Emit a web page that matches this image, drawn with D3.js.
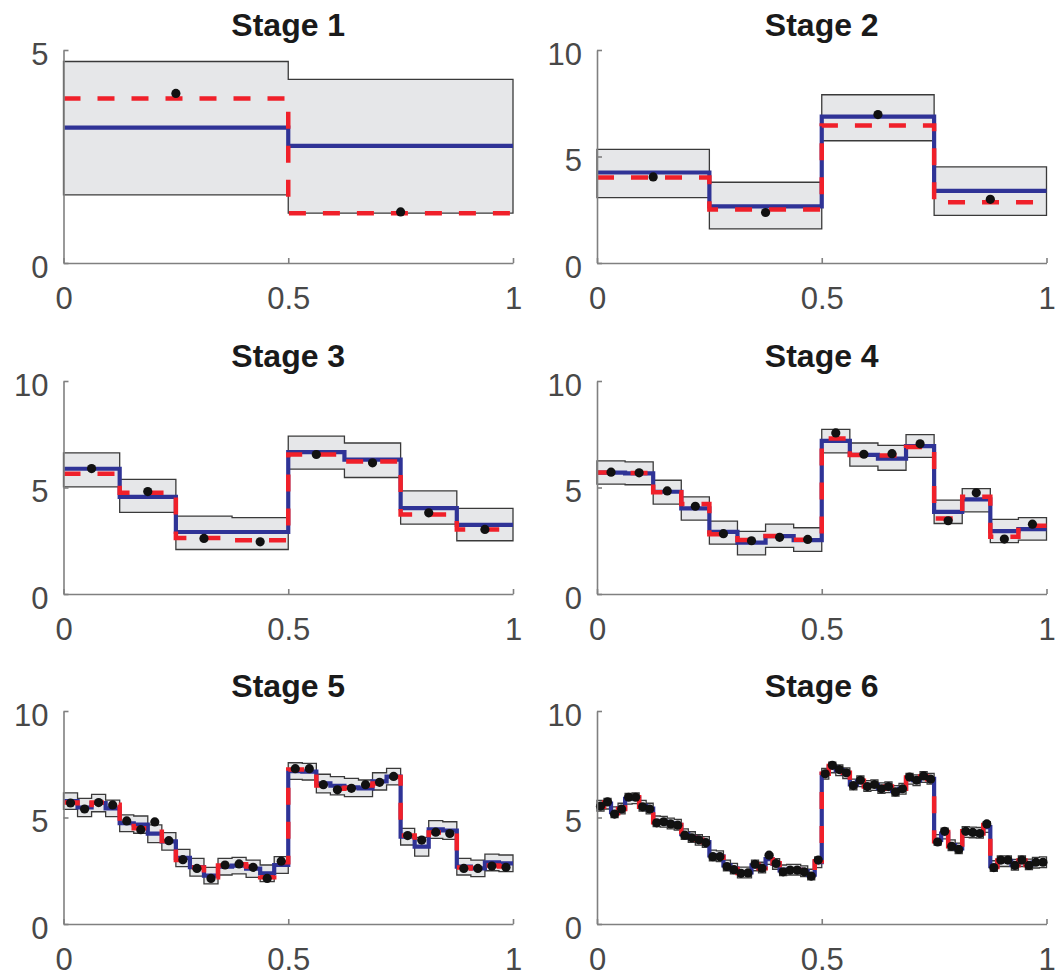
<!DOCTYPE html>
<html>
<head>
<meta charset="utf-8">
<style>
  body { margin: 0; background: #fff; }
  svg { display: block; font-family: "Liberation Sans", Arial, Helvetica, sans-serif; }
</style>
</head>
<body>
<svg width="1057" height="977"></svg>
<script src="https://cdn.jsdelivr.net/npm/d3@7"></script>
<script>
// panel titles and tick labels
var titles = ['Stage 1', 'Stage 2', 'Stage 3', 'Stage 4', 'Stage 5', 'Stage 6'];
var yMax = [5, 10, 10, 10, 10, 10];
var xTicks = [0, 0.5, 1];
var yTicksSmall = [0, 5];
var yTicks = [0, 5, 10];

// stage 1 (2 pieces)
var est1 = [3.18, 2.75];
var true1 = [3.86, 1.17];
var lo1 = [1.60, 1.17];
var hi1 = [4.73, 4.31];
var obs1 = [3.98, 1.20];

// stage 2 (4 pieces)
var est2 = [4.25, 2.66, 6.87, 3.39];
var true2 = [4.01, 2.51, 6.46, 2.85];
var lo2 = [3.07, 1.60, 5.74, 2.24];
var hi2 = [5.33, 3.79, 7.90, 4.51];
var obs2 = [4.04, 2.37, 6.97, 2.99];

// stage 3 (8 pieces)
var est3 = [5.88, 4.56, 2.91, 2.91, 6.66, 6.31, 4.03, 3.25];
var true3 = [5.64, 4.75, 2.63, 2.52, 6.55, 6.22, 3.73, 3.03];
var lo3 = [5.03, 3.83, 2.09, 2.09, 5.86, 5.47, 3.28, 2.50];
var hi3 = [6.63, 5.38, 3.66, 3.59, 7.41, 7.09, 4.84, 4.02];
var obs3 = [5.89, 4.81, 2.61, 2.45, 6.55, 6.16, 3.81, 3.03];

// stage 4 (16 pieces)
var est4 = [5.70, 5.66, 4.80, 4.02, 2.92, 2.41, 2.72, 2.53, 7.19, 6.53, 6.36, 6.94, 3.86, 4.44, 2.95, 3.05];
var true4 = [5.70, 5.68, 4.78, 4.22, 2.80, 2.53, 2.72, 2.55, 7.30, 6.53, 6.50, 6.90, 3.55, 4.56, 2.69, 3.20];
var lo4 = [5.16, 5.13, 4.22, 3.47, 2.34, 1.84, 2.19, 2.00, 6.63, 6.00, 5.81, 6.41, 3.31, 3.86, 2.41, 2.53];
var hi4 = [6.25, 6.20, 5.34, 4.56, 3.42, 2.94, 3.28, 3.11, 7.73, 7.09, 6.98, 7.48, 4.41, 4.95, 3.50, 3.59];
var obs4 = [5.72, 5.69, 4.84, 4.12, 2.83, 2.50, 2.66, 2.56, 7.56, 6.56, 6.59, 7.05, 3.44, 4.75, 2.58, 3.28];

// stage 5 (32 pieces)
var est5 = [5.77, 5.47, 5.68, 5.43, 4.73, 4.67, 4.24, 3.88, 3.10, 2.67, 2.27, 2.69, 2.74, 2.60, 2.38, 2.77,
            7.18, 7.15, 6.60, 6.49, 6.41, 6.37, 6.70, 6.92, 4.10, 3.63, 4.44, 4.39, 2.69, 2.61, 2.89, 2.85];
var true5 = [5.70, 5.45, 5.70, 5.60, 4.80, 4.50, 4.50, 3.90, 3.00, 2.65, 2.20, 2.75, 2.80, 2.70, 2.20, 2.90,
             7.25, 7.25, 6.50, 6.35, 6.40, 6.50, 6.60, 6.90, 4.15, 3.95, 4.30, 4.25, 2.65, 2.60, 2.75, 2.70];
var lo5 = [5.38, 5.04, 5.27, 5.04, 4.34, 4.26, 3.82, 3.47, 2.69, 2.25, 1.88, 2.30, 2.35, 2.19, 1.99, 2.38,
           6.79, 6.76, 6.16, 6.06, 5.98, 5.98, 6.29, 6.53, 3.71, 3.19, 4.02, 3.97, 2.30, 2.22, 2.50, 2.46];
var hi5 = [6.16, 5.90, 6.09, 5.82, 5.12, 5.07, 4.65, 4.29, 3.50, 3.08, 2.66, 3.08, 3.13, 3.00, 2.77, 3.16,
           7.57, 7.54, 7.03, 6.92, 6.84, 6.76, 7.10, 7.31, 4.49, 4.07, 4.85, 4.80, 3.08, 3.00, 3.28, 3.24];
var obs5 = [5.68, 5.40, 5.70, 5.59, 4.84, 4.43, 4.79, 3.91, 3.02, 2.61, 2.14, 2.77, 2.82, 2.66, 2.14, 2.95,
            7.29, 7.29, 6.54, 6.30, 6.37, 6.54, 6.65, 6.93, 4.15, 3.94, 4.31, 4.25, 2.61, 2.61, 2.72, 2.66];

// stage 6 (64 pieces)
var est6 = [5.55, 5.65, 5.25, 5.42, 5.88, 5.90, 5.55, 5.42, 4.82, 4.80, 4.72, 4.66, 4.22, 4.08, 3.95, 3.85,
            3.22, 3.18, 2.75, 2.60, 2.42, 2.42, 2.75, 2.65, 3.05, 2.82, 2.52, 2.55, 2.55, 2.48, 2.32, 2.90,
            7.05, 7.35, 7.22, 7.08, 6.55, 6.70, 6.48, 6.52, 6.38, 6.42, 6.25, 6.35, 6.82, 6.75, 6.90, 6.82,
            3.95, 4.25, 3.70, 3.55, 4.32, 4.30, 4.28, 4.55, 2.72, 2.95, 2.95, 2.78, 2.95, 2.80, 2.88, 2.90];
var true6 = [5.50, 5.70, 5.20, 5.40, 5.92, 5.95, 5.50, 5.40, 4.78, 4.80, 4.70, 4.65, 4.18, 4.05, 3.95, 3.85,
             3.18, 3.15, 2.72, 2.58, 2.40, 2.40, 2.78, 2.62, 3.15, 2.85, 2.48, 2.53, 2.53, 2.47, 2.28, 2.95,
             7.05, 7.42, 7.25, 7.10, 6.52, 6.72, 6.45, 6.55, 6.35, 6.45, 6.22, 6.35, 6.88, 6.75, 6.92, 6.80,
             3.88, 4.32, 3.65, 3.52, 4.35, 4.30, 4.25, 4.65, 2.68, 2.98, 3.00, 2.76, 2.98, 2.77, 2.90, 2.90];
var lo6 = [5.30, 5.40, 5.00, 5.17, 5.63, 5.65, 5.30, 5.17, 4.57, 4.55, 4.47, 4.41, 3.97, 3.83, 3.70, 3.60,
           2.97, 2.93, 2.50, 2.35, 2.17, 2.17, 2.50, 2.40, 2.80, 2.57, 2.27, 2.30, 2.30, 2.23, 2.07, 2.65,
           6.80, 7.10, 6.97, 6.83, 6.30, 6.45, 6.23, 6.27, 6.13, 6.17, 6.00, 6.10, 6.57, 6.50, 6.65, 6.57,
           3.70, 4.00, 3.45, 3.30, 4.07, 4.05, 4.03, 4.30, 2.47, 2.70, 2.70, 2.53, 2.70, 2.55, 2.63, 2.65];
var hi6 = [5.80, 5.90, 5.50, 5.67, 6.13, 6.15, 5.80, 5.67, 5.07, 5.05, 4.97, 4.91, 4.47, 4.33, 4.20, 4.10,
           3.47, 3.43, 3.00, 2.85, 2.67, 2.67, 3.00, 2.90, 3.30, 3.07, 2.77, 2.80, 2.80, 2.73, 2.57, 3.15,
           7.30, 7.60, 7.47, 7.33, 6.80, 6.95, 6.73, 6.77, 6.63, 6.67, 6.50, 6.60, 7.07, 7.00, 7.15, 7.07,
           4.20, 4.50, 3.95, 3.80, 4.57, 4.55, 4.53, 4.80, 2.97, 3.20, 3.20, 3.03, 3.20, 3.05, 3.13, 3.15];
var obs6 = [5.53, 5.73, 5.16, 5.40, 5.95, 5.95, 5.50, 5.40, 4.75, 4.80, 4.70, 4.64, 4.17, 4.05, 3.95, 3.82,
            3.16, 3.16, 2.70, 2.55, 2.38, 2.40, 2.80, 2.62, 3.23, 2.84, 2.45, 2.53, 2.53, 2.45, 2.25, 3.00,
            7.05, 7.45, 7.25, 7.10, 6.50, 6.75, 6.45, 6.55, 6.35, 6.45, 6.20, 6.35, 6.90, 6.75, 6.95, 6.80,
            3.85, 4.35, 3.65, 3.50, 4.35, 4.30, 4.25, 4.70, 2.65, 3.00, 3.00, 2.75, 3.00, 2.75, 2.90, 2.90];

var stages = [
  {est: est1, tru: true1, lo: lo1, hi: hi1, obs: obs1},
  {est: est2, tru: true2, lo: lo2, hi: hi2, obs: obs2},
  {est: est3, tru: true3, lo: lo3, hi: hi3, obs: obs3},
  {est: est4, tru: true4, lo: lo4, hi: hi4, obs: obs4},
  {est: est5, tru: true5, lo: lo5, hi: hi5, obs: obs5},
  {est: est6, tru: true6, lo: lo6, hi: hi6, obs: obs6}
];

// layout
var colX = [63.5, 597];
var rowY = [50, 381, 711];
var pw = 449.5, ph = 213;

var svg = d3.select('svg');
svg.append('rect').attr('width', 1057).attr('height', 977).attr('fill', '#fff');

// turn a piecewise-constant array into step points, last value repeated at x = 1
function stepPts(vals) {
  var n = vals.length;
  var pts = vals.map(function (v, i) { return [i / n, v]; });
  pts.push([1, vals[n - 1]]);
  return pts;
}

var fmt = d3.format('~g');

stages.forEach(function (s, k) {
  var left = colX[k % 2], top = rowY[Math.floor(k / 2)];
  var g = svg.append('g').attr('transform', 'translate(' + left + ',' + top + ')');
  var x = d3.scaleLinear().domain([0, 1]).range([0, pw]);
  var y = d3.scaleLinear().domain([0, yMax[k]]).range([ph, 0]);
  var n = s.est.length;

  // confidence band
  var band = s.lo.map(function (v, i) { return {x: i / n, lo: v, hi: s.hi[i]}; });
  band.push({x: 1, lo: s.lo[n - 1], hi: s.hi[n - 1]});
  g.append('path')
    .datum(band)
    .attr('fill', '#e6e7e9')
    .attr('stroke', '#3a3a3a')
    .attr('stroke-width', 1.3)
    .attr('d', d3.area()
      .curve(d3.curveStepAfter)
      .x(function (d) { return x(d.x); })
      .y0(function (d) { return y(d.lo); })
      .y1(function (d) { return y(d.hi); }));

  var line = d3.line()
    .curve(d3.curveStepAfter)
    .x(function (d) { return x(d[0]); })
    .y(function (d) { return y(d[1]); });

  // estimate (blue)
  g.append('path')
    .datum(stepPts(s.est))
    .attr('fill', 'none')
    .attr('stroke', '#2f3396')
    .attr('stroke-width', 4.2)
    .attr('d', line);

  // true value (red dashed)
  g.append('path')
    .datum(stepPts(s.tru))
    .attr('fill', 'none')
    .attr('stroke', '#f0202a')
    .attr('stroke-width', 4.5)
    .attr('stroke-dasharray', '17,17')
    .attr('d', line);

  // observations
  g.selectAll('circle')
    .data(s.obs)
    .enter().append('circle')
    .attr('cx', function (d, i) { return x((i + 0.5) / n); })
    .attr('cy', function (d) { return y(d); })
    .attr('r', 4.6)
    .attr('fill', '#111');

  // axes
  var ax = g.append('g')
    .attr('transform', 'translate(0,' + ph + ')')
    .call(d3.axisBottom(x).tickValues(xTicks).tickFormat(fmt).tickSizeInner(-5).tickSizeOuter(0).tickPadding(24));
  var ay = g.append('g')
    .call(d3.axisLeft(y).tickValues(k === 0 ? yTicksSmall : yTicks).tickFormat(fmt).tickSizeInner(-5).tickSizeOuter(0).tickPadding(15));
  [ax, ay].forEach(function (a) {
    a.select('.domain').attr('stroke', '#808080').attr('stroke-width', 1.6);
    a.selectAll('.tick line').attr('stroke', '#808080').attr('stroke-width', 1.6);
    a.selectAll('.tick text')
      .attr('fill', '#484848')
      .style('font-size', '31px')
      .style('font-family', '"Liberation Sans", Arial, Helvetica, sans-serif');
  });
  ay.selectAll('.tick text').attr('dy', '0.46em');

  // title
  g.append('text')
    .attr('x', pw / 2)
    .attr('y', -14)
    .attr('text-anchor', 'middle')
    .attr('fill', '#1a1a1a')
    .style('font-size', '32px')
    .style('font-weight', 'bold')
    .text(titles[k]);
});
</script>
</body>
</html>
